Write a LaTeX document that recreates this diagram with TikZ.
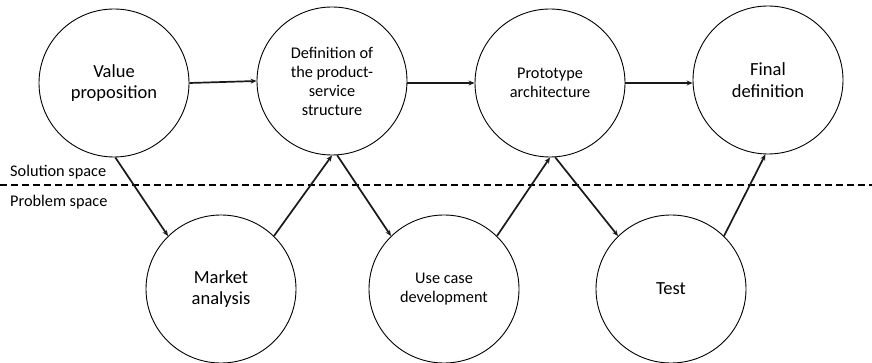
\documentclass[tikz,border=0pt]{standalone}
\usepackage{fontspec}
\setmainfont{Carlito}
\usepackage{tikz}
\usetikzlibrary{shapes.geometric, arrows.meta}

\begin{document}
\begin{tikzpicture}[x=1pt, y=-1pt,
  stage/.style={draw=black, line width=0.9pt, ellipse, minimum width=150pt,
    minimum height=148pt, inner sep=0pt, align=center},
  bigtxt/.style={font=\fontsize{18.5}{21.5}\selectfont},
  smalltxt/.style={font=\fontsize{16.3}{19}\selectfont},
  flow/.style={line width=1.7pt, draw=black!90, -{Stealth[length=6pt, width=5pt]}}]
  \useasboundingbox (0,0) rectangle (872,363);

  % Solution space stages
  \node[stage, bigtxt] (value) at (114,83) {Value\\proposition};
  \node[stage, smalltxt] (def) at (332,81) {Definition of\\the product-\\service\\structure};
  \node[stage, smalltxt] (proto) at (550,83) {Prototype\\architecture};
  \node[stage, bigtxt] (final) at (768,80) {Final\\definition};

  % Problem space stages
  \node[stage, bigtxt] (market) at (221,289) {Market\\analysis};
  \node[stage, smalltxt] (usecase) at (444,289) {Use case\\development};
  \node[stage, bigtxt] (test) at (671,289) {Test};

  % Divider between the two spaces
  \coordinate (divL) at (0,185);
  \coordinate (divR) at (872,185);
  \draw[line width=1.4pt, dash pattern=on 7pt off 4pt] (divL) -- (divR);
  \node[smalltxt, anchor=west, inner sep=0pt] (sol) at (10,172) {Solution space};
  \node[smalltxt, anchor=west, inner sep=0pt] (prob) at (10,202) {Problem space};

  % Horizontal flow
  \draw[flow] (value.east) -- (def.west);
  \draw[flow] (def.east |- proto.west) -- (proto.west);
  \draw[flow] (proto.east) -- (final.west |- proto.east);

  % Zig-zag between the spaces
  \draw[flow] (value.-89) -- (market.135);
  \draw[flow] (market.45) -- (def.-90);
  \draw[flow] (def.-86) -- (usecase.135);
  \draw[flow] (usecase.45) -- (proto.-90);
  \draw[flow] (proto.-86) -- (test.135);
  \draw[flow] (test.45) -- (final.-92);
\end{tikzpicture}
\end{document}
